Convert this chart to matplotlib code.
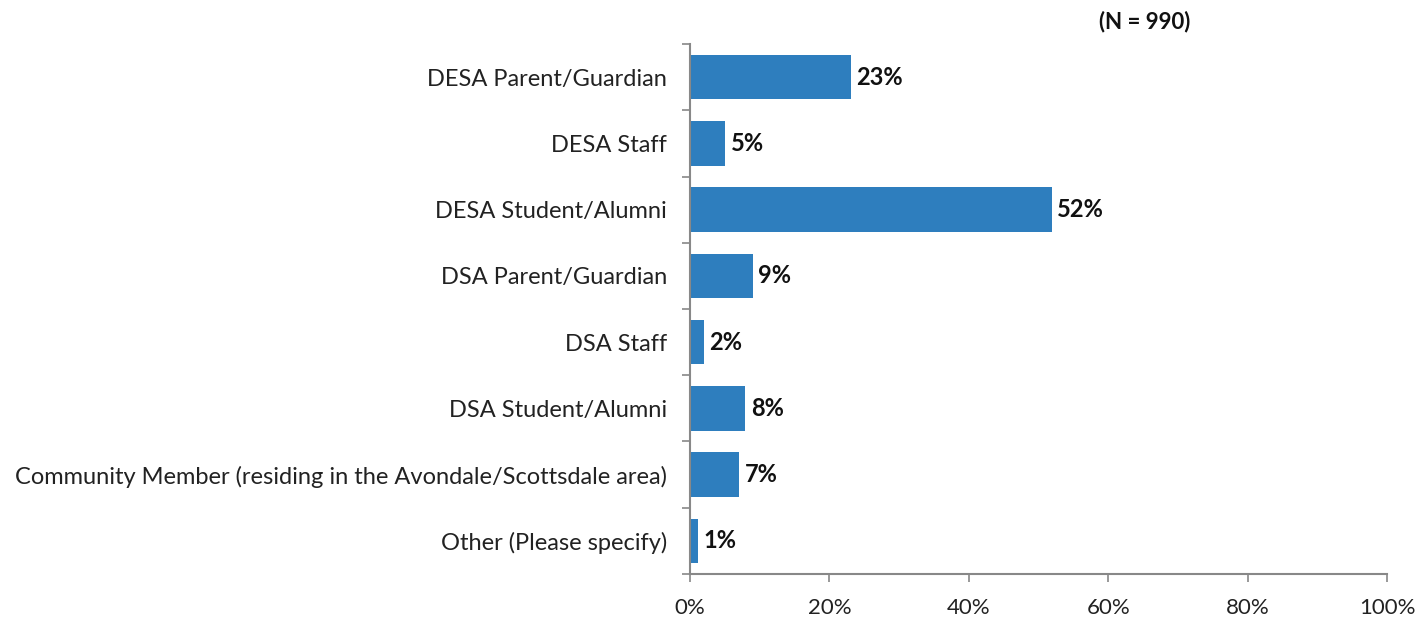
import matplotlib.pyplot as plt
from matplotlib.ticker import FixedLocator

plt.rcParams['font.family'] = ['Lato', 'DejaVu Sans']

categories = ['DESA Parent/Guardian', 'DESA Staff', 'DESA Student/Alumni',
              'DSA Parent/Guardian', 'DSA Staff', 'DSA Student/Alumni',
              'Community Member (residing in the Avondale/Scottsdale area)',
              'Other (Please specify)']
values = [23.1, 5.0, 51.9, 9.0, 2.0, 7.9, 7.0, 1.1]
labels = ['23%', '5%', '52%', '9%', '2%', '8%', '7%', '1%']
xticks = [0, 20, 40, 60, 80, 100]

fig = plt.figure(figsize=(14.23, 6.21), dpi=100)
ax = fig.add_axes([0.4849, 0.0757, 0.4898, 0.8534])

y = list(range(len(categories)))
ax.barh(y, values, height=0.67, color='#2E7EBE')
for yi, v, lab in zip(y, values, labels):
    ax.text(v + 0.8, yi, lab, va='center', ha='left', fontsize=17, fontweight='bold', color='#111111')

ax.set_xlim(0, 100)
ax.set_ylim(len(categories) - 0.5, -0.5)
ax.set_yticks(y)
ax.set_yticklabels(categories, fontsize=17, color='#222222')
ax.yaxis.set_minor_locator(FixedLocator([i - 0.5 for i in range(len(categories) + 1)]))
ax.tick_params(axis='y', which='major', length=0, pad=16.5)
ax.tick_params(axis='y', which='minor', length=6, width=1.2, color='#888888')
ax.set_xticks(xticks)
ax.set_xticklabels([str(t) + '%' for t in xticks], fontsize=16, color='#222222')
ax.tick_params(axis='x', length=6, width=1.2, color='#888888', pad=11)

for s in ['top', 'right']:
    ax.spines[s].set_visible(False)
for s in ['left', 'bottom']:
    ax.spines[s].set_color('#888888')
    ax.spines[s].set_linewidth(1.5)

fig.text(0.8046, 0.965, '(N = 990)', ha='center', va='center', fontsize=16, fontweight='bold', color='#111111')

fig.savefig('out.png', dpi=100)
